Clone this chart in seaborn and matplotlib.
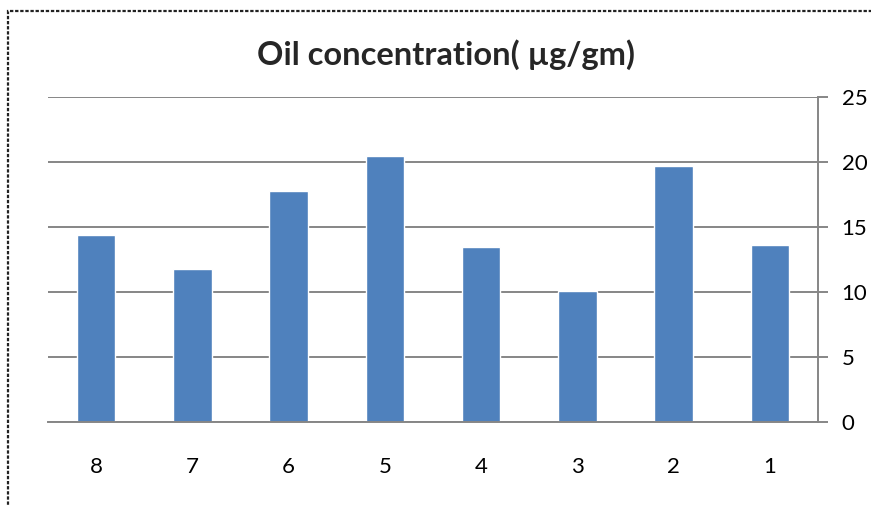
import numpy as np
import pandas as pd
import matplotlib
matplotlib.use('Agg')
import matplotlib.pyplot as plt
import matplotlib.patches as mpatches
import seaborn as sns

# Data
samples = ['8', '7', '6', '5', '4', '3', '2', '1']
oil_conc = [14.4, 11.8, 17.8, 20.5, 13.5, 10.1, 19.7, 13.6]
y_ticks = [0, 5, 10, 15, 20, 25]

df = pd.DataFrame({'Sample': samples, 'Oil': oil_conc})

sns.set_style('white')
plt.rcParams['font.family'] = ['Lato', 'DejaVu Sans']

fig = plt.figure(figsize=(8.71, 5.05), dpi=100)
ax = fig.add_axes([48 / 871, 1 - 422 / 505, 770 / 871, 325 / 505])

sns.barplot(data=df, x='Sample', y='Oil', order=samples, color='#4F81BD',
            width=0.4, saturation=1, ax=ax)

ax.set_xlim(-0.5, len(samples) - 0.5)
ax.set_ylim(0, 25)
ax.set_yticks(y_ticks)
ax.yaxis.tick_right()
ax.yaxis.set_label_position('right')
ax.grid(axis='y', color='#868686', linewidth=1.4)
ax.set_axisbelow(True)
ax.set_xlabel('')
ax.set_ylabel('')

for side in ['top', 'left']:
    ax.spines[side].set_visible(False)
for side in ['bottom', 'right']:
    ax.spines[side].set_color('#868686')
    ax.spines[side].set_linewidth(1.4)

# x tick marks between categories, labels centered
ax.set_xticks(np.arange(-0.5, len(samples)), minor=True)
ax.tick_params(axis='x', which='major', length=0, pad=25, labelsize=16,
               labelcolor='black')
ax.tick_params(axis='x', which='minor', length=7, color='#868686', width=1.4,
               direction='out')
ax.tick_params(axis='y', which='major', length=7, color='#868686', width=1.4,
               direction='out', pad=10, labelsize=16, labelcolor='black',
               right=True, left=False)

fig.text(0.512, 1 - 55 / 505, 'Oil concentration( µg/gm)', ha='center',
         va='center', fontsize=23.5, fontweight='bold')

# dashed frame around the chart
fig.patches.append(mpatches.Rectangle((8 / 871, -0.05), 1.0, 1 - 11 / 505 + 0.05,
                                      transform=fig.transFigure, fill=False,
                                      edgecolor='#222222', linewidth=1.6,
                                      linestyle=(0, (1.5, 0.8))))

fig.savefig('out.png', dpi=100)
